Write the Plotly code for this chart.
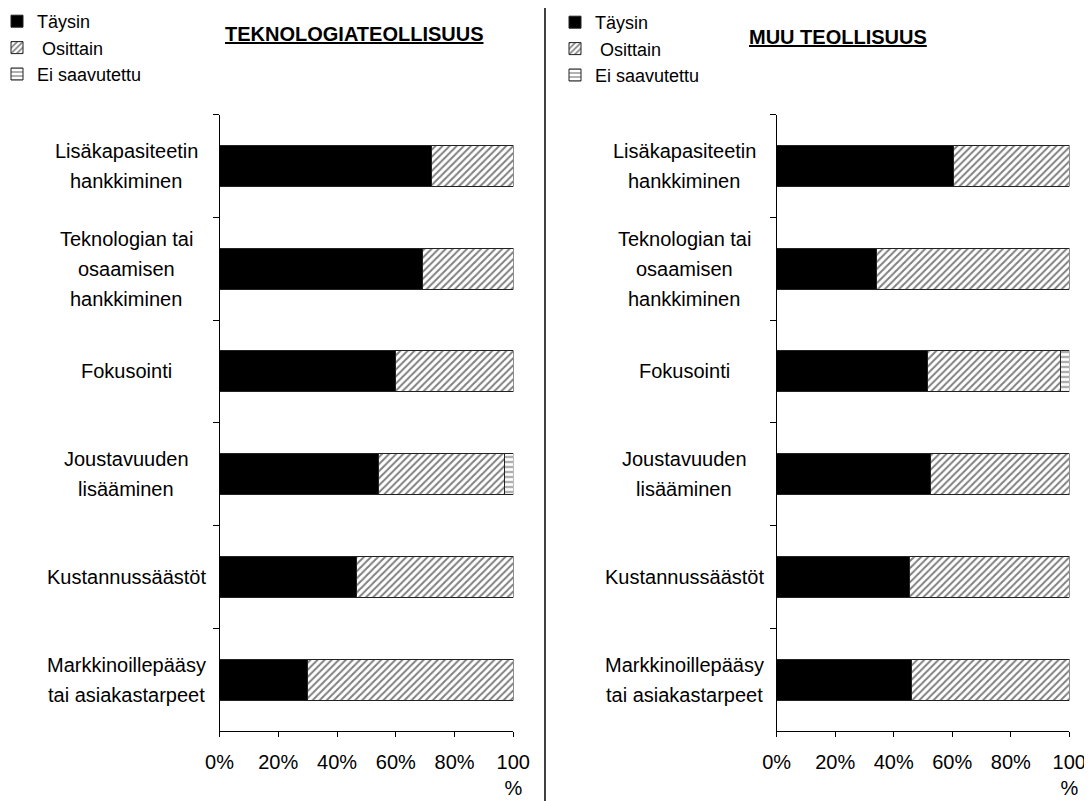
import plotly.graph_objects as go

categories = [
    "Lisäkapasiteetin<br>hankkiminen",
    "Teknologian tai<br>osaamisen<br>hankkiminen",
    "Fokusointi",
    "Joustavuuden<br>lisääminen",
    "Kustannussäästöt",
    "Markkinoillepääsy<br>tai asiakastarpeet",
]
series_names = ["Täysin", " Osittain", "Ei saavutettu"]

tek_taysin = [72, 69, 60, 54, 46.5, 30]
tek_osittain = [28, 31, 40, 43, 53.5, 70]
tek_ei = [0, 0, 0, 3, 0, 0]

muu_taysin = [60.5, 34, 51.5, 52.5, 45.5, 46]
muu_osittain = [39.5, 66, 45.5, 47.5, 54.5, 54]
muu_ei = [0, 0, 3, 0, 0, 0]

x_tickvals = [0, 20, 40, 60, 80, 100]
x_ticktext = ["0%", "20%", "40%", "60%", "80%", "100<br>%"]

titles = ["<b><u>TEKNOLOGIATEOLLISUUS</u></b>", "<b><u>MUU TEOLLISUUS</u></b>"]

FONT = "Liberation Sans, Arial, sans-serif"

# The page places the figure 8px from the top-left corner; work in page pixels.
OFF = 8
W, H = 1092 - OFF, 801 - OFF


def px(x):
    return (x - OFF) / W


def py(y):
    return 1 - (y - OFF) / H


styles = [
    dict(color="black", pattern=dict(shape="")),
    dict(color="white", pattern=dict(shape="/", size=5, solidity=0.4, fgcolor="black", bgcolor="white", fillmode="overlay")),
    dict(color="white", pattern=dict(shape="-", size=5, solidity=0.3, fgcolor="black", bgcolor="white", fillmode="overlay")),
]

fig = go.Figure()

panels = [
    (tek_taysin, tek_osittain, tek_ei, "x", "y", "legend"),
    (muu_taysin, muu_osittain, muu_ei, "x2", "y2", "legend2"),
]
for t, o, e, xa, ya, lg in panels:
    for name, vals, st in zip(series_names, [t, o, e], styles):
        fig.add_trace(go.Bar(
            y=categories, x=vals, name=name, orientation="h",
            xaxis=xa, yaxis=ya, legend=lg,
            marker=dict(color=st["color"], pattern=st["pattern"],
                        line=dict(color="#222", width=1)),
            showlegend=True,
        ))

axis_common_x = dict(
    range=[0, 100], tickvals=x_tickvals, ticktext=x_ticktext,
    showline=True, linecolor="black", linewidth=1,
    ticks="outside", ticklen=5, tickcolor="black",
    showgrid=False, zeroline=False, fixedrange=True, automargin=False,
    tickfont=dict(family=FONT, size=20, color="black"),
    ticklabelstandoff=8,
)
axis_common_y = dict(
    categoryorder="array", categoryarray=categories, autorange="reversed",
    showline=True, linecolor="black", linewidth=1,
    ticks="outside", ticklen=6, tickcolor="black", tickson="boundaries",
    showticklabels=False, showgrid=False, zeroline=False, automargin=False,
    domain=[py(731), py(114.5)],
)

legend_common = dict(
    xanchor="left", yanchor="top", xref="paper", yref="paper",
    traceorder="normal", bgcolor="rgba(0,0,0,0)",
    font=dict(family=FONT, size=18, color="black"),
    itemwidth=30, tracegroupgap=0,
)

fig.update_layout(
    template="none",
    width=W, height=H,
    margin=dict(l=0, r=0, t=0, b=0, autoexpand=False),
    paper_bgcolor="white", plot_bgcolor="white",
    barmode="stack", bargap=0.6,
    font=dict(family=FONT, size=19, color="black"),
    xaxis=dict(domain=[px(219.5), px(513.3)], anchor="y", **axis_common_x),
    yaxis=dict(anchor="x", **axis_common_y),
    xaxis2=dict(domain=[px(776.7), px(1069.3)], anchor="y2", **axis_common_x),
    yaxis2=dict(anchor="x2", **axis_common_y),
    legend=dict(x=px(-3), y=py(3), **legend_common),
    legend2=dict(x=px(555), y=py(4), **legend_common),
)

# Category labels (centered multi-line, like the original)
label_centers = [px(126), px(684)]
for yref, xc in zip(["y", "y2"], label_centers):
    for cat in categories:
        lines = cat.split("<br>")
        n = len(lines)
        for i, line in enumerate(lines):
            fig.add_annotation(
                x=xc, xref="paper", y=cat, yref=yref,
                text=line, showarrow=False, xanchor="center", yanchor="middle",
                yshift=((n - 1) / 2 - i) * 30,
                font=dict(family=FONT, size=20, color="black"),
            )

# Panel titles
fig.add_annotation(x=px(354), y=py(34), xref="paper", yref="paper",
                   text=titles[0], showarrow=False, xanchor="center", yanchor="middle",
                   font=dict(family=FONT, size=20, color="black"))
fig.add_annotation(x=px(838), y=py(37), xref="paper", yref="paper",
                   text=titles[1], showarrow=False, xanchor="center", yanchor="middle",
                   font=dict(family=FONT, size=20, color="black"))

# Divider line between the panels
fig.add_shape(type="line", xref="paper", yref="paper",
              x0=px(545), x1=px(545), y0=0, y1=1,
              line=dict(color="black", width=1.5))

fig.write_html("out.html")
